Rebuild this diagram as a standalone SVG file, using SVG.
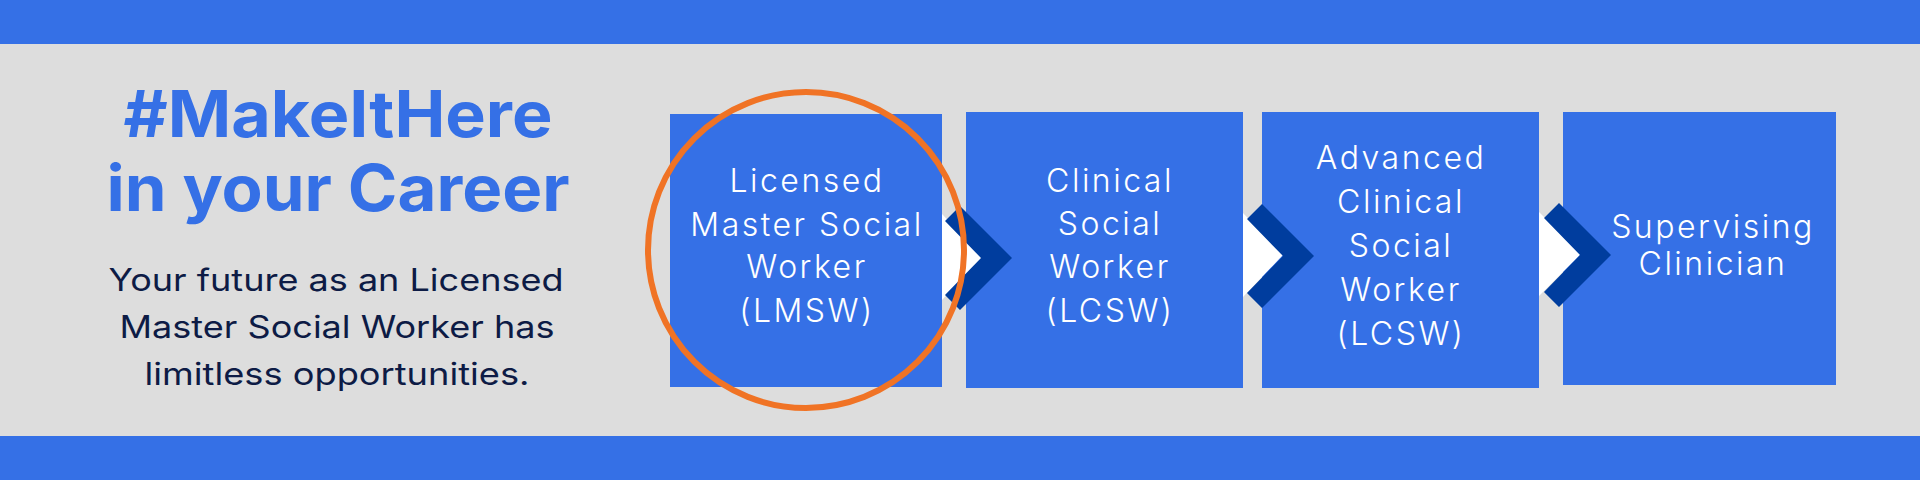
<svg xmlns="http://www.w3.org/2000/svg" width="1920" height="480" viewBox="0 0 1920 480">
  <style>
    .bar { fill: #3570E6; }
    .band { fill: #DDDDDD; }
    .box { fill: #3570E6; }
    .title { font-family: Inter, "Open Sans", "Liberation Sans", sans-serif; font-weight: 700; font-size: 64px; fill: #3570E6; text-anchor: middle; }
    .body { font-family: Inter, "Open Sans", "Liberation Sans", sans-serif; font-weight: 400; font-size: 31px; fill: #0D1B45; text-anchor: middle; }
    .lbl { font-family: Inter, "Open Sans", "Liberation Sans", sans-serif; font-weight: 300; font-size: 32px; fill: #FFFFFF; text-anchor: middle; letter-spacing: 2.5px; }
    .chev { fill: #003D9E; }
    .gap { fill: #FFFFFF; }
    .ring { fill: none; stroke: #F07325; stroke-width: 6; }
  </style>
  <rect class="bar" x="0" y="0" width="1920" height="44"/>
  <rect class="band" x="0" y="44" width="1920" height="392"/>
  <rect class="bar" x="0" y="436" width="1920" height="44"/>

  <g id="heading">
    <text class="title" x="338" y="137" textLength="429" lengthAdjust="spacingAndGlyphs">#MakeItHere</text>
    <text class="title" x="338" y="211" textLength="463" lengthAdjust="spacingAndGlyphs">in your Career</text>
    <text class="body" x="336" y="291" textLength="455" lengthAdjust="spacingAndGlyphs">Your future as an Licensed</text>
    <text class="body" x="337" y="338" textLength="435" lengthAdjust="spacingAndGlyphs">Master Social Worker has</text>
    <text class="body" x="337" y="385" textLength="385" lengthAdjust="spacingAndGlyphs">limitless opportunities.</text>
  </g>

  <g id="node-lmsw">
    <rect class="box" x="670" y="114" width="272" height="273"/>
    <text class="lbl" x="807" y="192">Licensed</text>
    <text class="lbl" x="807" y="236">Master Social</text>
    <text class="lbl" x="807" y="278">Worker</text>
    <text class="lbl" x="807" y="322">(LMSW)</text>
  </g>

  <g id="node-lcsw">
    <rect class="box" x="966" y="112" width="277" height="276"/>
    <text class="lbl" x="1110" y="192">Clinical</text>
    <text class="lbl" x="1110" y="235">Social</text>
    <text class="lbl" x="1110" y="278">Worker</text>
    <text class="lbl" x="1110" y="322">(LCSW)</text>
  </g>

  <g id="node-advanced">
    <rect class="box" x="1262" y="112" width="277" height="276"/>
    <text class="lbl" x="1401" y="169">Advanced</text>
    <text class="lbl" x="1401" y="213">Clinical</text>
    <text class="lbl" x="1401" y="257">Social</text>
    <text class="lbl" x="1401" y="301">Worker</text>
    <text class="lbl" x="1401" y="345">(LCSW)</text>
  </g>

  <g id="node-supervising">
    <rect class="box" x="1563" y="112" width="273" height="273"/>
    <text class="lbl" x="1713" y="238">Supervising</text>
    <text class="lbl" x="1713" y="275">Clinician</text>
  </g>

  <g id="connectors">
    <polygon class="gap" points="942,214 983,257 942,300"/>
    <polygon class="chev" points="960,206 1012,258 960,310 945,295 981,258 945,221"/>
    <polygon class="gap" points="1243,213 1283,255 1243,297"/>
    <polygon class="chev" points="1262,204 1314,256 1262,308 1247,293 1283,256 1247,219"/>
    <polygon class="gap" points="1539,212 1581,254 1539,296"/>
    <polygon class="chev" points="1559,203 1611,255 1559,307 1544,292 1580,255 1544,218"/>
  </g>

  <g id="highlight">
    <circle class="ring" cx="806" cy="250" r="158"/>
  </g>
</svg>
